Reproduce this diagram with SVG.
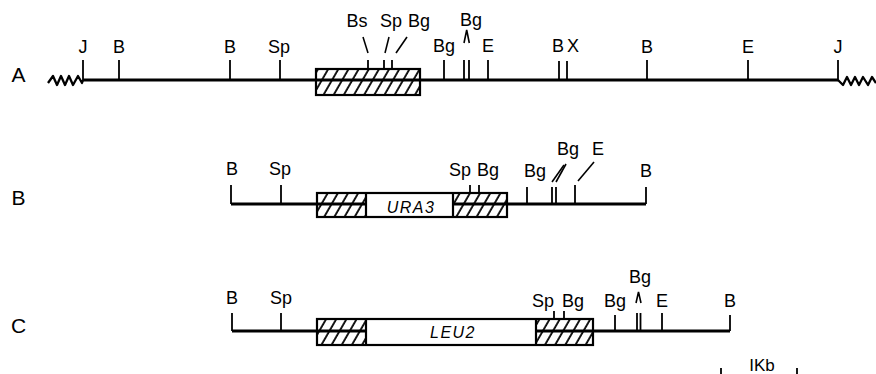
<svg xmlns="http://www.w3.org/2000/svg" width="876" height="374" viewBox="0 0 876 374">
<defs>
<pattern id="hatch" patternUnits="userSpaceOnUse" width="8.8" height="10" patternTransform="rotate(30)">
<line x1="2" y1="-2" x2="2" y2="12" stroke="#000" stroke-width="1.8"/>
</pattern>
</defs>
<style>
text{font-family:"Liberation Sans",Arial,sans-serif;font-size:18px;fill:#000;text-anchor:middle}
.row{font-size:21px}
.gene{font-size:16px;font-style:italic;letter-spacing:1.5px}
.map{stroke:#000;stroke-width:3;fill:none}
.tick{stroke:#000;stroke-width:1.8;fill:none}
.sl{stroke:#000;stroke-width:1.6;fill:none}
.wave{stroke:#000;stroke-width:2.3;fill:none;stroke-linejoin:round}
.hb{fill:url(#hatch);stroke:none}
.wb{fill:#fff;stroke:none}
.box{fill:none;stroke:#000;stroke-width:2.2}
</style>
<rect width="876" height="374" fill="#fff"/>

<g id="connectors">
<line class="map" x1="83" y1="80" x2="838" y2="80"/>
<line class="map" x1="231" y1="204" x2="646" y2="204"/>
<line class="map" x1="232" y1="331" x2="730" y2="331"/>
</g>

<g id="rowA">
<text class="row" x="18.5" y="82">A</text>
<polyline class="wave" points="48,83 53,76 57,85 61,76 65,85 69,76 73,85 78,76 82,83 83,80"/>
<polyline class="wave" points="838,80 843,85 847,77 851,85 855,77 859,85 863,77 868,85 872,77 876,83"/>
<rect class="hb" x="316" y="69" width="104" height="26"/>
<rect class="box" x="316" y="69" width="104" height="26"/>
<g class="tick">
<line x1="83" y1="60" x2="83" y2="80"/>
<line x1="119" y1="60" x2="119" y2="80"/>
<line x1="230" y1="60" x2="230" y2="80"/>
<line x1="280" y1="60" x2="280" y2="80"/>
<line x1="368" y1="60" x2="368" y2="69"/>
<line x1="384" y1="60" x2="384" y2="69"/>
<line x1="392" y1="60" x2="392" y2="69"/>
<line x1="444" y1="60" x2="444" y2="80"/>
<line x1="464" y1="60" x2="464" y2="80"/>
<line x1="469" y1="60" x2="469" y2="80"/>
<line x1="488" y1="60" x2="488" y2="80"/>
<line x1="559" y1="61" x2="559" y2="80"/>
<line x1="567" y1="61" x2="567" y2="80"/>
<line x1="647" y1="60" x2="647" y2="80"/>
<line x1="748" y1="60" x2="748" y2="80"/>
<line x1="838" y1="60" x2="838" y2="80"/>
</g>
<g class="sl">
<line x1="363" y1="37" x2="368" y2="53"/>
<line x1="389" y1="37" x2="385" y2="53"/>
<line x1="407" y1="37" x2="396" y2="53"/>
<polyline points="464,43 466.7,30 469.3,43"/>
</g>
<text x="83" y="53">J</text>
<text x="119" y="53">B</text>
<text x="230" y="53">B</text>
<text x="279" y="53">Sp</text>
<text x="357" y="27">Bs</text>
<text x="391" y="27">Sp</text>
<text x="419" y="27">Bg</text>
<text x="471" y="26">Bg</text>
<text x="444" y="52">Bg</text>
<text x="488" y="52">E</text>
<text x="558" y="52">B</text>
<text x="573" y="52">X</text>
<text x="647" y="53">B</text>
<text x="748" y="53">E</text>
<text x="838" y="53">J</text>
</g>

<g id="rowB">
<text class="row" x="18.5" y="205">B</text>
<rect class="hb" x="317" y="193" width="49" height="24"/>
<rect class="wb" x="366" y="193" width="87" height="24"/>
<rect class="hb" x="453" y="193" width="54" height="24"/>
<rect class="box" x="317" y="193" width="190" height="24"/>
<line class="box" x1="366" y1="193" x2="366" y2="217"/>
<line class="box" x1="453" y1="193" x2="453" y2="217"/>
<text class="gene" x="411" y="213">URA3</text>
<g class="tick">
<line x1="231" y1="185" x2="231" y2="204"/>
<line x1="281" y1="185" x2="281" y2="204"/>
<line x1="470" y1="185" x2="470" y2="193"/>
<line x1="479" y1="185" x2="479" y2="193"/>
<line x1="527" y1="187" x2="527" y2="204"/>
<line x1="552" y1="187" x2="552" y2="204"/>
<line x1="556" y1="187" x2="556" y2="204"/>
<line x1="575" y1="185" x2="575" y2="204"/>
<line x1="646" y1="187" x2="646" y2="204"/>
</g>
<g class="sl">
<line x1="552" y1="182" x2="564" y2="165"/>
<line x1="556" y1="182" x2="566" y2="164"/>
<line x1="578" y1="181" x2="594" y2="162"/>
</g>
<text x="232" y="175">B</text>
<text x="280" y="175">Sp</text>
<text x="460" y="176">Sp</text>
<text x="488" y="176">Bg</text>
<text x="535" y="177">Bg</text>
<text x="568" y="155">Bg</text>
<text x="598" y="155">E</text>
<text x="646" y="177">B</text>
</g>

<g id="rowC">
<text class="row" x="18.5" y="333">C</text>
<rect class="hb" x="317" y="319" width="49" height="26"/>
<rect class="wb" x="366" y="319" width="170" height="26"/>
<rect class="hb" x="536" y="319" width="57" height="26"/>
<rect class="box" x="317" y="319" width="276" height="26"/>
<line class="box" x1="366" y1="319" x2="366" y2="345"/>
<line class="box" x1="536" y1="319" x2="536" y2="345"/>
<text class="gene" x="453" y="338">LEU2</text>
<g class="tick">
<line x1="232" y1="313" x2="232" y2="331"/>
<line x1="281" y1="313" x2="281" y2="331"/>
<line x1="554" y1="311" x2="554" y2="319"/>
<line x1="564" y1="311" x2="564" y2="319"/>
<line x1="615" y1="315" x2="615" y2="331"/>
<line x1="637" y1="313" x2="637" y2="331"/>
<line x1="640.5" y1="313" x2="640.5" y2="331"/>
<line x1="662" y1="313" x2="662" y2="331"/>
<line x1="730" y1="315" x2="730" y2="331"/>
</g>
<polyline class="sl" points="636,303 638.5,292 641,303"/>
<text x="232" y="304">B</text>
<text x="281" y="304">Sp</text>
<text x="543" y="307">Sp</text>
<text x="573" y="307">Bg</text>
<text x="615" y="307">Bg</text>
<text x="640" y="283">Bg</text>
<text x="662" y="307">E</text>
<text x="730" y="307">B</text>
</g>

<g id="scale">
<line class="tick" x1="721" y1="368" x2="721" y2="374"/>
<line class="tick" x1="797" y1="368" x2="797" y2="374"/>
<text x="762" y="371" style="font-size:17px">IKb</text>
</g>
</svg>
